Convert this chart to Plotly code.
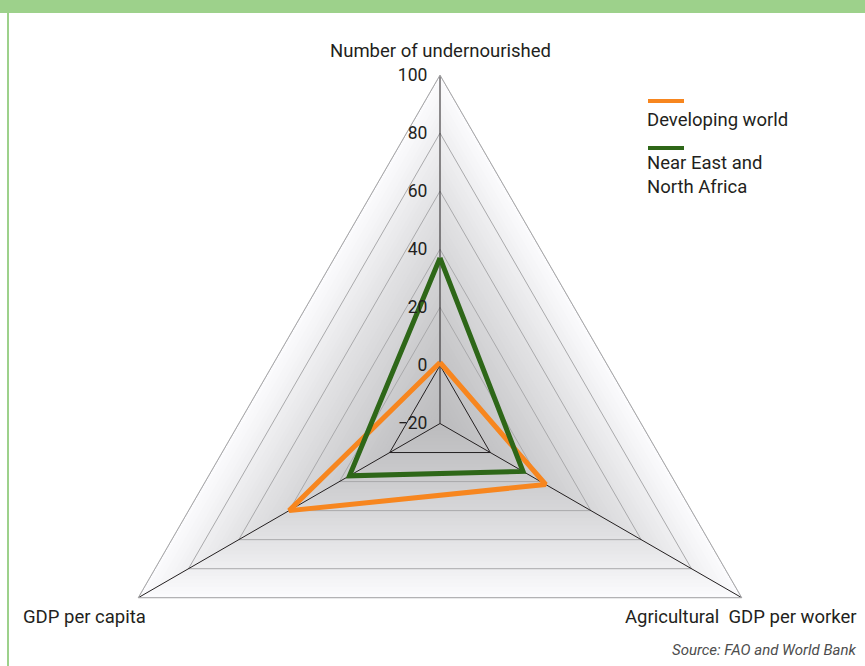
import plotly.graph_objects as go

# ---------------- data ----------------
categories = ["Number of undernourished", "Agricultural  GDP per worker", "GDP per capita"]
developing_world = [1, 22, 40]
near_east_north_africa = [37, 13, 16]
radial_ticks = [-20, 0, 20, 40, 60, 80, 100]
series_names = ["Developing world", "Near East and<br>North Africa"]
source_text = "Source: FAO and World Bank"

# ---------------- page geometry (pixels) ----------------
W, H = 865, 780          # figure taller than window so the full triangle fits
CX, CY, R = 440, 423.5, 348.5
FONT = "Roboto, 'DejaVu Sans', sans-serif"
TXT = "#231f20"
GREEN_BAR = "#9dd18b"
ORANGE = "#f7861f"
DGREEN = "#2e6718"
LABEL_SIZE = 18.5


def px_x(x):
    return x / W


def px_y(y):
    return 1 - y / H


closed = categories + [categories[0]]


def ring(v):
    return [v] * len(closed)


fig = go.Figure()

# background shading bands (outer light -> inner grey)
rmin, rmax = radial_ticks[0], radial_ticks[-1]
lvl = rmax
while lvl > rmin:
    t = (lvl - rmin) / (rmax - rmin)
    g = int(round(188 + (251 - 188) * t ** 1.25))
    fig.add_trace(go.Scatterpolar(
        r=ring(lvl), theta=closed, mode="lines", fill="toself",
        fillcolor=f"rgb({g},{g},{min(255, g + 2)})", line=dict(width=0),
        hoverinfo="skip", showlegend=False))
    lvl -= 2.5

# ring grid lines
for v in radial_ticks[1:]:
    fig.add_trace(go.Scatterpolar(
        r=ring(v), theta=closed, mode="lines",
        line=dict(color="#231f20" if v == 0 else "#a9a9ab", width=1),
        hoverinfo="skip", showlegend=False))

# spokes
for c in categories:
    fig.add_trace(go.Scatterpolar(
        r=[rmin, rmax], theta=[c, c], mode="lines",
        line=dict(color="#231f20", width=1), hoverinfo="skip", showlegend=False))

# data series
for vals, name, col in [(developing_world, series_names[0], ORANGE),
                        (near_east_north_africa, series_names[1], DGREEN)]:
    fig.add_trace(go.Scatterpolar(
        r=vals + [vals[0]], theta=closed, mode="lines", name=name.replace("<br>", " "),
        line=dict(color=col, width=5), showlegend=False))

fig.update_layout(
    width=W, height=H,
    margin=dict(l=0, r=0, t=0, b=0),
    paper_bgcolor="white",
    font=dict(family=FONT, size=LABEL_SIZE, color=TXT),
    polar=dict(
        domain=dict(x=[px_x(CX - R), px_x(CX + R)], y=[px_y(CY + R), px_y(CY - R)]),
        gridshape="linear",
        bgcolor="white",
        radialaxis=dict(range=[rmin, rmax], tickvals=radial_ticks, angle=90,
                        side="counterclockwise", tickangle=90,
                        showline=False, showgrid=False,
                        ticks="outside", ticklen=6, tickcolor="rgba(0,0,0,0)",
                        tickfont=dict(size=17.5, color=TXT, family=FONT)),
        angularaxis=dict(type="category", categoryarray=categories, rotation=90,
                         direction="clockwise", showticklabels=False, ticks="",
                         showgrid=False, showline=True, linecolor="#a9a9ab",
                         linewidth=1),
    ),
)

# top green bar and left border
fig.add_shape(type="rect", xref="paper", yref="paper", x0=0, x1=1,
              y0=px_y(13), y1=1, fillcolor=GREEN_BAR, line=dict(width=0), layer="above")
fig.add_shape(type="line", xref="paper", yref="paper", x0=px_x(8), x1=px_x(8),
              y0=px_y(666), y1=px_y(13), line=dict(color=GREEN_BAR, width=2))

# axis category labels
fig.add_annotation(text=categories[0], x=px_x(CX), y=px_y(51), xref="paper", yref="paper",
                   xanchor="center", yanchor="middle", showarrow=False)
fig.add_annotation(text=categories[2], x=px_x(21), y=px_y(617), xref="paper", yref="paper",
                   xanchor="left", yanchor="middle", showarrow=False)
fig.add_annotation(text=categories[1], x=px_x(859), y=px_y(617), xref="paper", yref="paper",
                   xanchor="right", yanchor="middle", showarrow=False)

# manual legend
fig.add_shape(type="line", xref="paper", yref="paper", x0=px_x(648), x1=px_x(684),
              y0=px_y(101), y1=px_y(101), line=dict(color=ORANGE, width=4))
fig.add_annotation(text=series_names[0], x=px_x(645), y=px_y(120), xref="paper", yref="paper",
                   xanchor="left", yanchor="middle", showarrow=False, align="left")
fig.add_shape(type="line", xref="paper", yref="paper", x0=px_x(648), x1=px_x(684),
              y0=px_y(148), y1=px_y(148), line=dict(color=DGREEN, width=4))
fig.add_annotation(text=series_names[1], x=px_x(645), y=px_y(175), xref="paper", yref="paper",
                   xanchor="left", yanchor="middle", showarrow=False, align="left")

# source
fig.add_annotation(text=f"<i>{source_text}</i>", x=px_x(858), y=px_y(650), xref="paper",
                   yref="paper", xanchor="right", yanchor="middle", showarrow=False,
                   font=dict(size=15, color="#4d4d4d"))

fig.write_html(
    "out.html",
    config={"displayModeBar": False},
    post_script="document.body.style.margin='0';document.body.style.overflow='hidden';"
                "document.documentElement.style.overflow='hidden';",
)
